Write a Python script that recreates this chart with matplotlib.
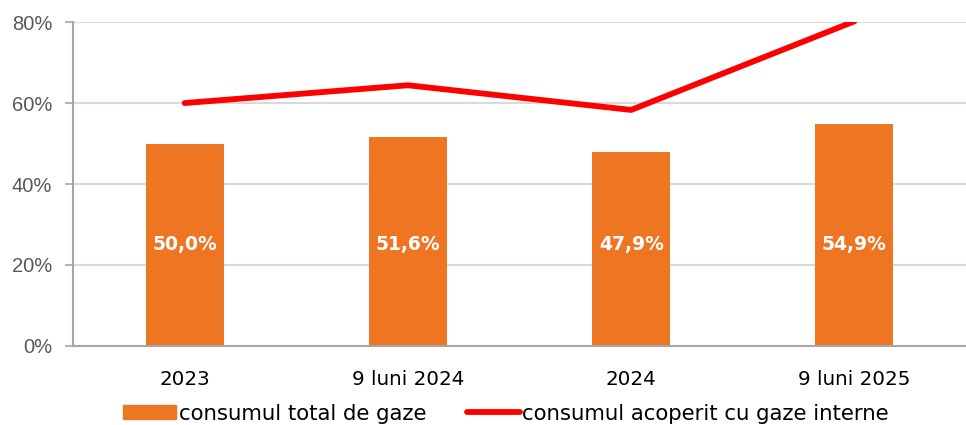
import matplotlib
matplotlib.use("Agg")
import matplotlib.pyplot as plt
from matplotlib.patches import Patch
from matplotlib.lines import Line2D
import numpy as np

categories = ["2023", "9 luni 2024", "2024", "9 luni 2025"]
total_share = [50.0, 51.6, 47.9, 54.9]
internal_share = [60.0, 64.4, 58.3, 80.2]
bar_labels = ["50,0%", "51,6%", "47,9%", "54,9%"]
y_ticks = [0, 20, 40, 60, 80]

ORANGE = "#ee7623"
RED = "#ff0000"

fig = plt.figure(figsize=(9.66, 4.25), dpi=100)
ax = fig.add_axes([0.0756, 0.186, 0.9244, 0.762])

x = np.arange(len(categories))
ax.bar(x, total_share, width=0.35, color=ORANGE, zorder=2)
ax.plot(x, internal_share, color=RED, lw=4.2, solid_capstyle="round", zorder=3)

for xi, lab in zip(x, bar_labels):
    ax.text(xi, 25, lab, ha="center", va="center", color="white",
            fontsize=13.5, fontweight="bold", family="DejaVu Sans", zorder=4)

ax.set_xlim(-0.5, 3.5)
ax.set_ylim(0, 80)
ax.set_yticks(y_ticks)
ax.set_yticklabels([f"{v}%" for v in y_ticks], family="Liberation Sans", fontsize=14.5, color="#595959")
ax.set_xticks(x)
ax.set_xticklabels(categories, family="DejaVu Sans", fontsize=14.3, color="black")
ax.tick_params(axis="x", length=0, pad=17)
ax.tick_params(axis="y", length=6, color="#a6a6a6", width=1.2, pad=9)
ax.yaxis.grid(True, color="#d9d9d9", lw=1.5, zorder=0)
ax.set_axisbelow(True)
for s in ["top", "right"]:
    ax.spines[s].set_visible(False)
for s in ["left", "bottom"]:
    ax.spines[s].set_color("#a6a6a6")
    ax.spines[s].set_linewidth(1.5)

handles = [Patch(color=ORANGE), Line2D([0], [0], color=RED, lw=4.2, solid_capstyle="round")]
labels = ["consumul total de gaze", "consumul acoperit cu gaze interne"]
fig.legend(handles, labels, loc="center", bbox_to_anchor=(0.524, 0.027), ncol=2,
           frameon=False, prop={"family": "DejaVu Sans", "size": 15.3},
           handlelength=2.5, handleheight=0.6, handletextpad=0.12, columnspacing=1.9,
           borderpad=0)

fig.savefig("out.png", dpi=100)
